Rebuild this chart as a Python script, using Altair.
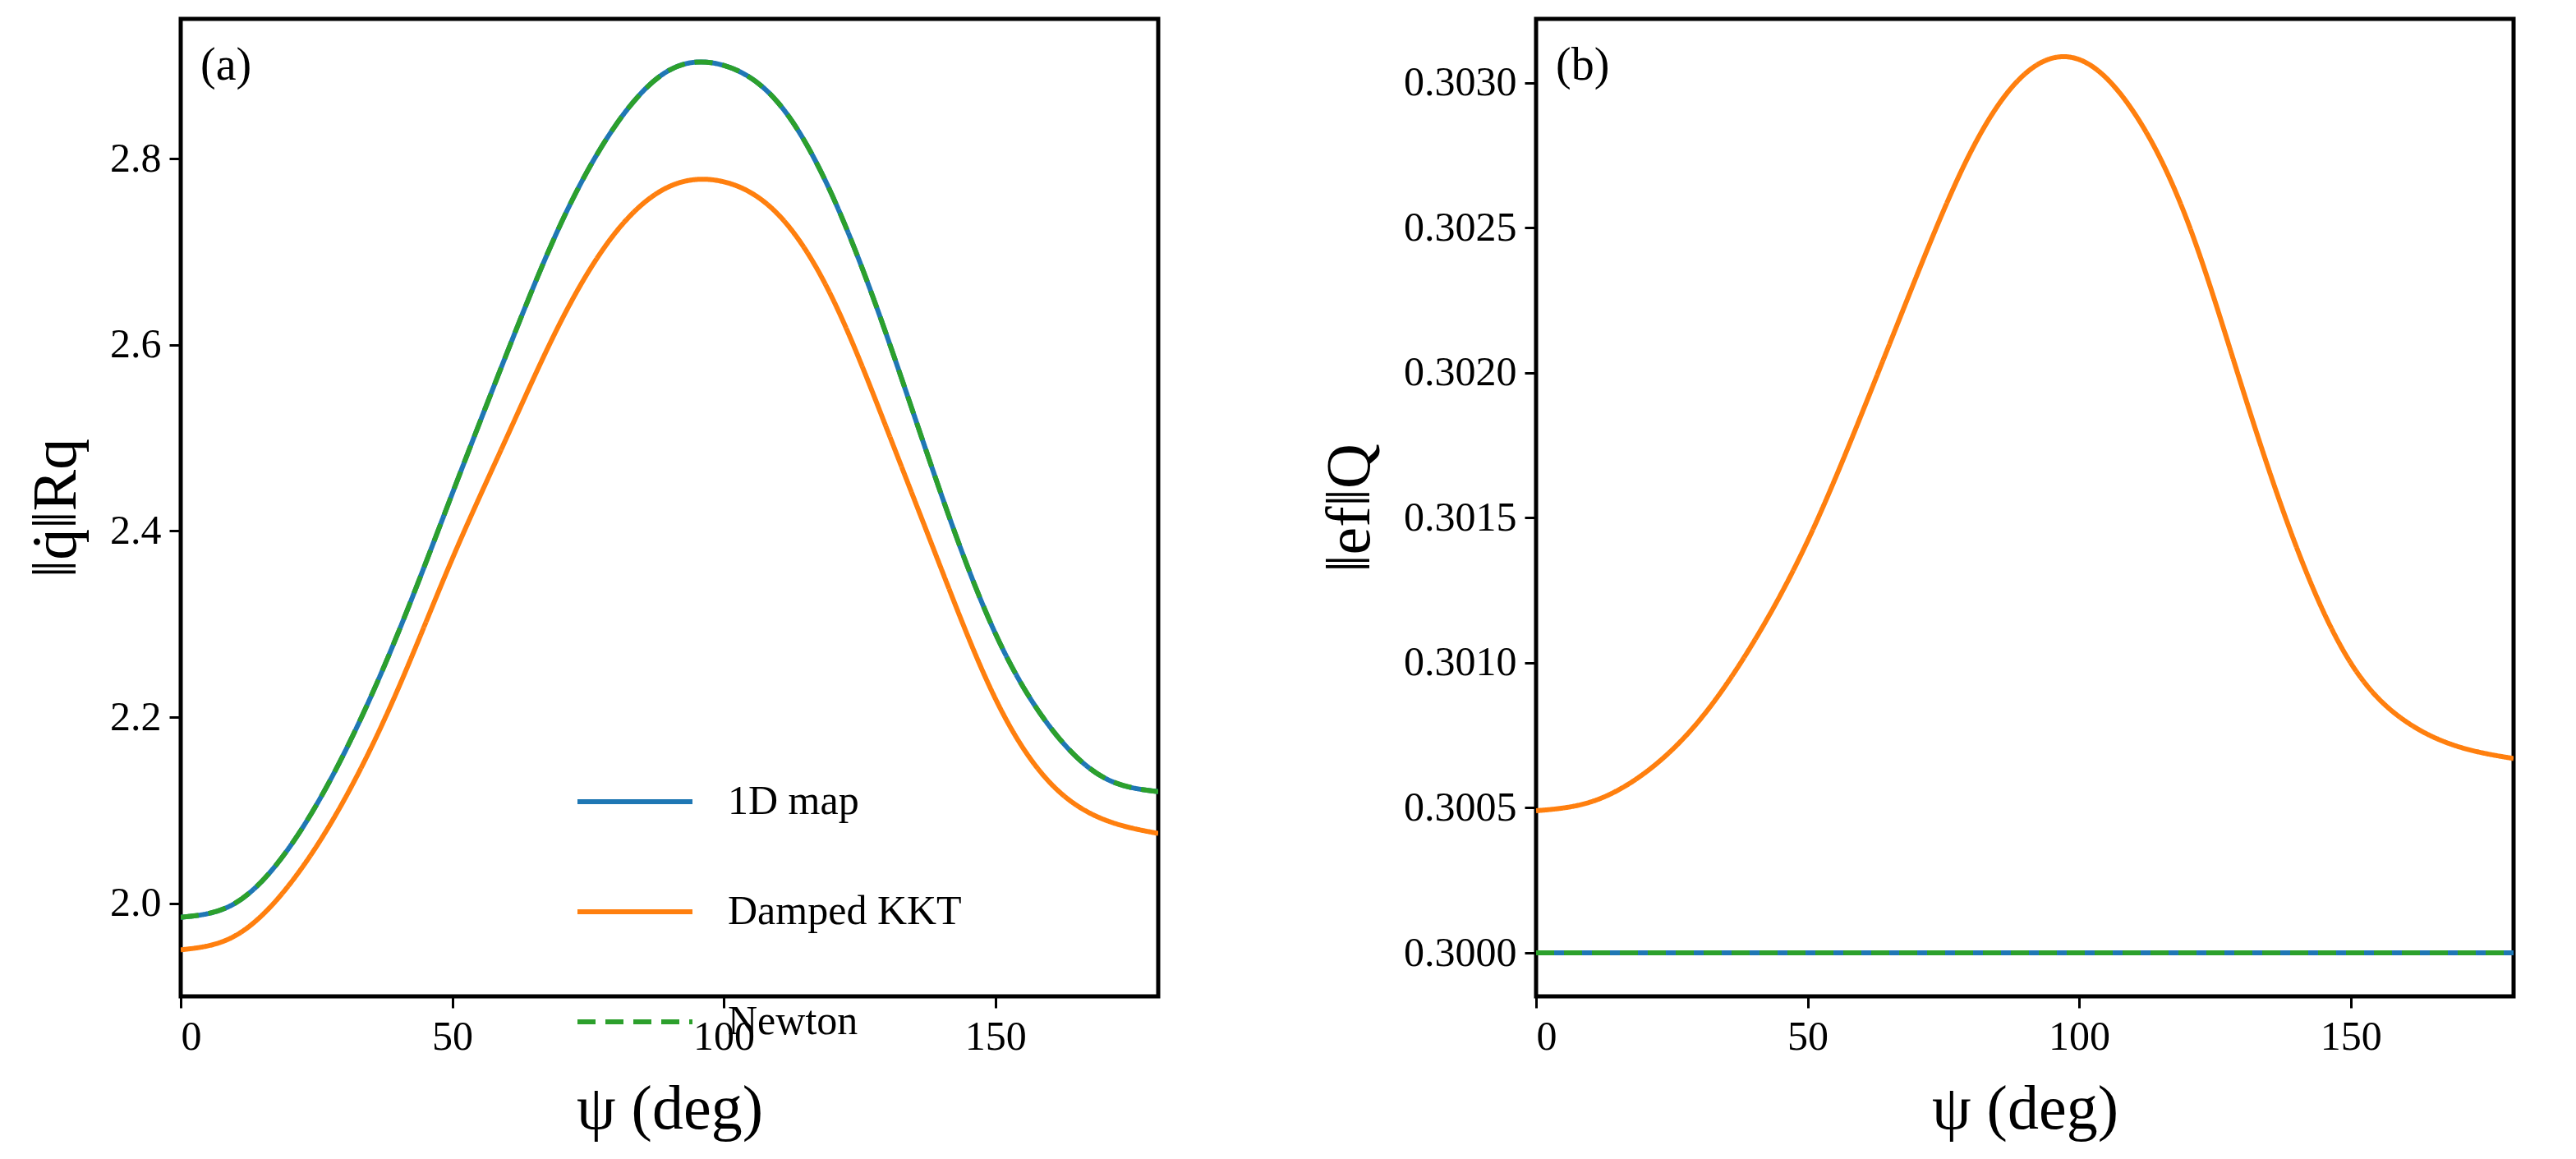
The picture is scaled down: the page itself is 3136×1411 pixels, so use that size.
import altair as alt
import pandas as pd

psi = [0, 10, 20, 30, 40, 50, 60, 70, 80, 90, 100, 110, 120, 130, 140, 150, 160, 170, 180]
a_map = [1.985, 2.00, 2.06, 2.16, 2.29, 2.44, 2.59, 2.73, 2.835, 2.895, 2.90, 2.86, 2.76, 2.61, 2.44, 2.29, 2.19, 2.135, 2.12]
a_kkt = [1.95, 1.965, 2.02, 2.11, 2.23, 2.37, 2.50, 2.625, 2.72, 2.77, 2.775, 2.74, 2.65, 2.51, 2.36, 2.22, 2.13, 2.09, 2.075]
a_newton = a_map
b_map = [0.3000] * len(psi)
b_kkt = [0.30049, 0.30052, 0.30062, 0.30080, 0.30107, 0.30142, 0.30186, 0.30233, 0.30276, 0.30303, 0.30308,
         0.30290, 0.30252, 0.30195, 0.30140, 0.30100, 0.30080, 0.30071, 0.30067]
b_newton = b_map
series = ["1D map", "Damped KKT", "Newton"]
colors = ["#1f77b4", "#ff7f0e", "#2ca02c"]
FONT = "Liberation Serif"


def frame(vals):
    rows = []
    for s, v in zip(series, vals):
        for p, y in zip(psi, v):
            rows.append({"psi": p, "val": y, "series": s})
    return pd.DataFrame(rows)


def panel(vals, ydom, ytitle, tag, fmt, yvals):
    df = frame(vals)
    line = alt.Chart(df).mark_line(strokeWidth=6, interpolate="natural", clip=True).encode(
        x=alt.X("psi:Q", scale=alt.Scale(domain=[0, 180], nice=False),
                axis=alt.Axis(values=[0, 50, 100, 150], title="ψ (deg)")),
        y=alt.Y("val:Q", scale=alt.Scale(domain=ydom, nice=False, zero=False),
                axis=alt.Axis(values=yvals, format=fmt, title=ytitle)),
        color=alt.Color("series:N", scale=alt.Scale(domain=series, range=colors),
                        legend=alt.Legend(title=None, orient="none", legendX=480, legendY=880,
                                          symbolType="stroke", symbolStrokeWidth=6, symbolSize=19600,
                                          labelFontSize=50, labelFont=FONT, rowPadding=36,
                                          labelLimit=0, labelOffset=40)),
        strokeDash=alt.StrokeDash("series:N", scale=alt.Scale(domain=series, range=[[1, 0], [1, 0], [22, 12]]),
                                  legend=None),
        order=alt.Order("series:N"),
    )
    txt = alt.Chart(pd.DataFrame({"t": [tag]})).mark_text(
        fontSize=56, font=FONT, align="left", baseline="top").encode(
        x=alt.value(24), y=alt.value(30), text="t:N")
    return alt.layer(line, txt).properties(width=1190, height=1190)


pa = panel([a_map, a_kkt, a_newton], [1.9, 2.95], "‖q̇‖Rq", "(a)", ".1f", [2.0, 2.2, 2.4, 2.6, 2.8])
pb = panel([b_map, b_kkt, b_newton], [0.29985, 0.30322], "‖ef‖Q", "(b)", ".4f",
           [0.3000, 0.3005, 0.3010, 0.3015, 0.3020, 0.3025, 0.3030])

chart = alt.hconcat(pa, pb, spacing=190).configure_view(stroke="black", strokeWidth=5).configure_axis(
    labelFont=FONT, titleFont=FONT, labelFontSize=50, titleFontSize=76, titleFontWeight="normal",
    labelColor="black", titleColor="black", domain=False, tickColor="black", tickWidth=3, tickSize=14,
    grid=False, labelPadding=10, titlePadding=26
).properties(padding={"left": 20, "top": 12, "right": 10, "bottom": 10})

chart.save("out.html", embed_options={"renderer": "svg", "actions": False})
